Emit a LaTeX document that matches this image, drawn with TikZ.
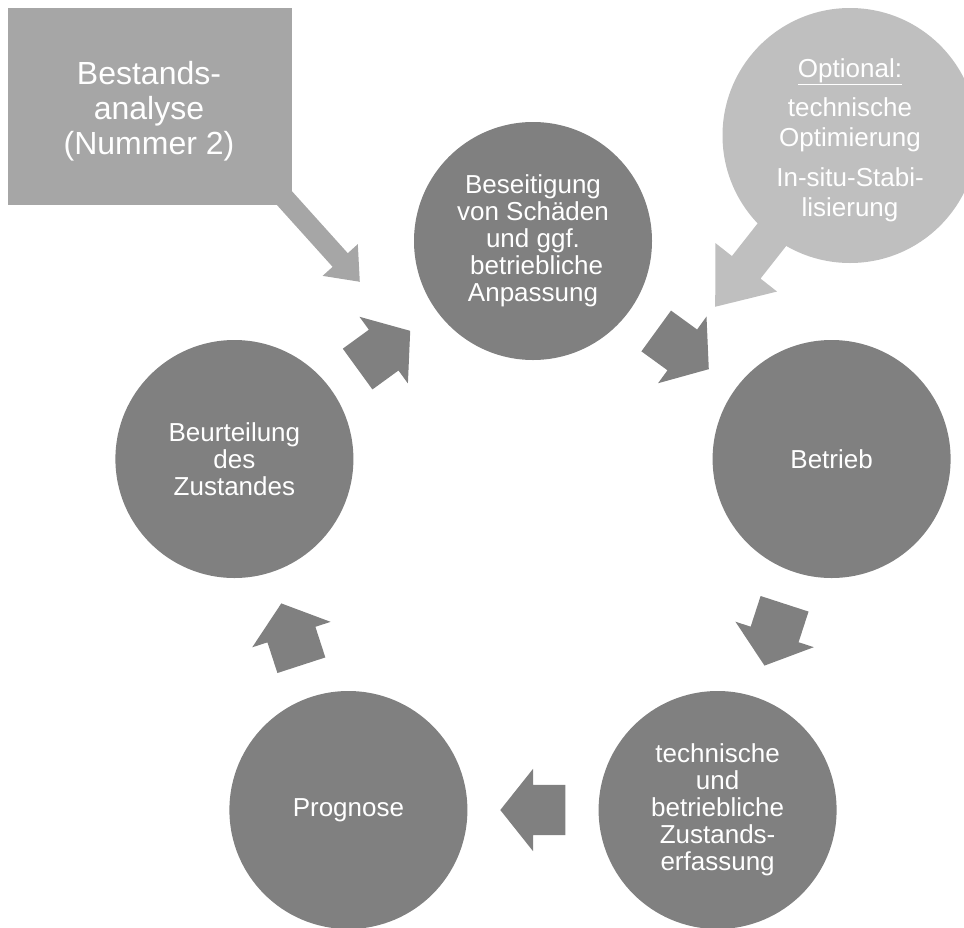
\documentclass[tikz,border=0pt]{standalone}
\usepackage{fontspec}
\setmainfont{Liberation Sans}
\usetikzlibrary{shapes.arrows,calc}

\definecolor{cyclegray}{RGB}{128,128,128}
\definecolor{boxgray}{RGB}{166,166,166}
\definecolor{optgray}{RGB}{191,191,191}

\tikzset{
  stepcircle/.style={circle, fill=cyclegray, minimum size=238, inner sep=0pt,
    text=white, align=center, font=\fontsize{26}{27}\selectfont},
  cyclearrow/.style={single arrow, fill=cyclegray, draw=none, inner xsep=0pt,
    inner ysep=25pt, minimum height=65, single arrow head extend=16,
    single arrow tip angle=103, anchor=tail},
}

\begin{document}
\begin{tikzpicture}[x=1pt,y=1pt,yscale=-1,xscale=1]
\useasboundingbox (0,0) rectangle (964,927);
\clip (0,0) rectangle (964,927);

%Feeder arrows (drawn first, box and circle cover their tails)
\coordinate (boxTip) at (360,282);
\coordinate (optCen) at (850,135.5);
\coordinate (optTip) at (715,307);
\node [single arrow, fill=boxgray, inner xsep=0pt, inner ysep=10pt, minimum height=164,
  single arrow head extend=13.5, single arrow tip angle=78, rotate=-48, anchor=tip]
  (boxArrow) at (boxTip) {};
\node [single arrow, fill=optgray, inner xsep=0pt, inner ysep=18pt, minimum height=218,
  single arrow head extend=21, single arrow tip angle=76, rotate=-128.2, anchor=tip]
  (optArrow) at (optTip) {};

%Shape: Rectangle [Bestandsanalyse]
\fill [boxgray] (8,8) rectangle (292,205);
\node [text=white, align=center, font=\fontsize{32}{35}\selectfont] (bestand) at (149,111)
  {Bestands-\\analyse\\(Nummer 2)};

%Shape: Circle [optional]
\node [circle, fill=optgray, minimum size=255, inner sep=0pt] (opt) at (optCen) {};
\node [text=white, align=center, font=\fontsize{26}{30}\selectfont] (optText) at (850,140)
  {\underline{Optional:}\\[9pt]technische\\Optimierung\\[10pt]In-situ-Stabi-\\lisierung};

%Cycle circles
\node [stepcircle] (fix) at (533,241) {Beseitigung\\von Schäden\\und ggf.\\\hspace*{.28em}betriebliche\\Anpassung};
\node [stepcircle] (betrieb) at (831.6,459) {Betrieb};
\node [stepcircle] (erfass) at (717.6,810) {technische\\und\\betriebliche\\Zustands-\\erfassung};
\node [stepcircle] (prog) at (348.4,810) {Prognose};
\node [stepcircle] (beurt) at (234.4,459) {Beurteilung\\des\\Zustandes};

%Cycle arrows
\node [cyclearrow, rotate=-36] (a1) at ($(fix)!0.5!(betrieb)!32.5pt!(fix)$) {};
\node [cyclearrow, rotate=-108] (a2) at ($(betrieb)!0.5!(erfass)!32.5pt!(betrieb)$) {};
\node [cyclearrow, rotate=180] (a3) at ($(erfass)!0.5!(prog)!32.5pt!(erfass)$) {};
\node [cyclearrow, rotate=108] (a4) at ($(prog)!0.5!(beurt)!32.5pt!(prog)$) {};
\node [cyclearrow, rotate=36] (a5) at ($(beurt)!0.5!(fix)!32.5pt!(beurt)$) {};

\end{tikzpicture}
\end{document}
